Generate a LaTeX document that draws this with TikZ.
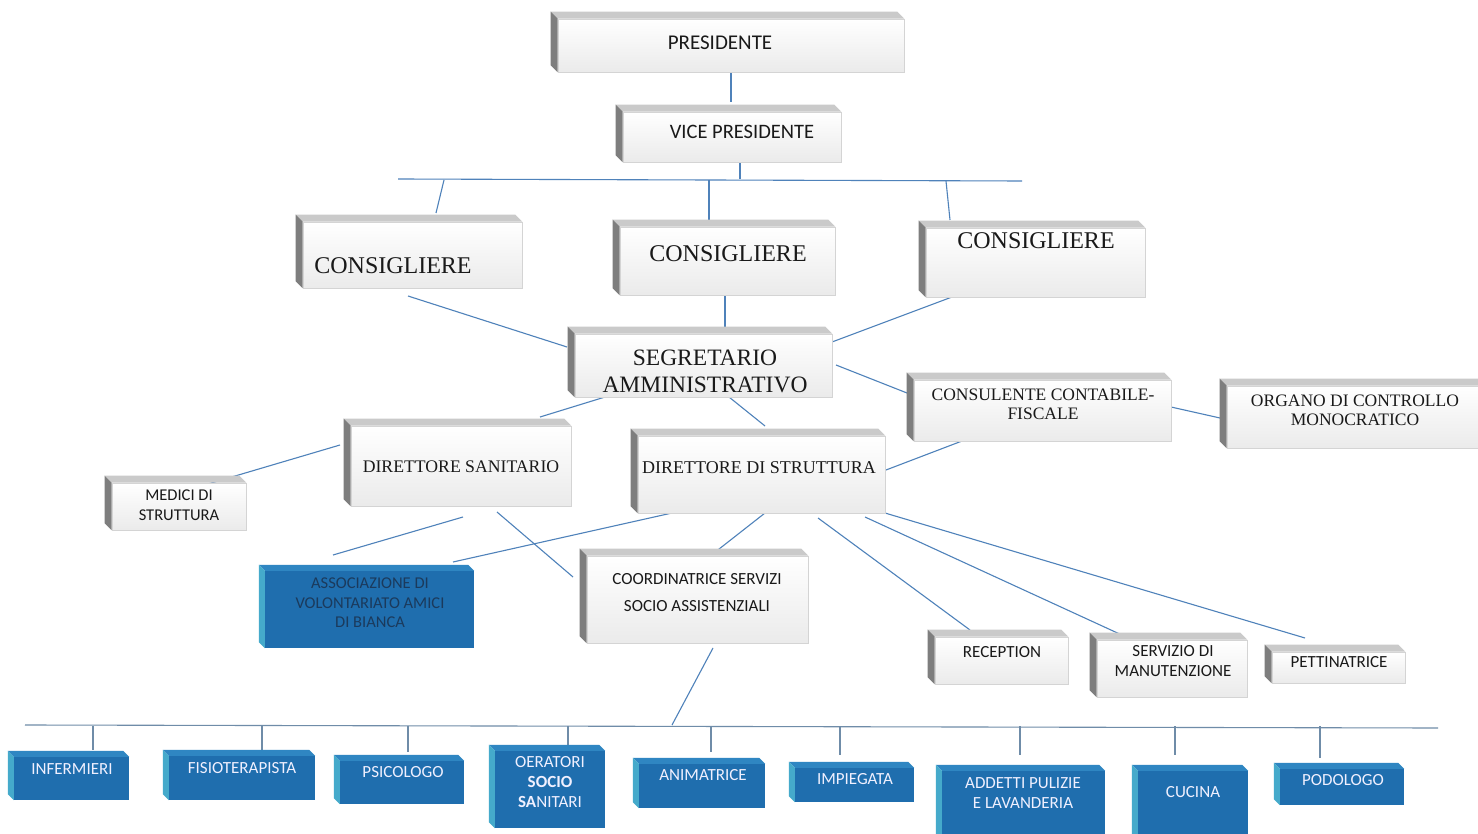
\documentclass[tikz,border=0pt]{standalone}
\usepackage{fontspec}
\setmainfont{Liberation Serif}
\newfontfamily\calfont{Carlito}
\usetikzlibrary{calc}
\definecolor{lineblue}{HTML}{4F82BA}
\definecolor{busgray}{HTML}{6F8CA8}
\definecolor{bfront}{HTML}{1F6EAE}
\definecolor{bleft}{HTML}{45AACB}
\definecolor{btop}{HTML}{2F86C2}
\definecolor{gtop}{HTML}{CACACA}
\definecolor{gleft}{HTML}{7E7E7E}
\definecolor{gedge}{HTML}{D4D4D4}
\definecolor{navytext}{HTML}{1B3A5C}
\tikzset{
  gface/.style={draw=gedge, line width=0.6pt, top color=white, bottom color=gray!16, inner sep=0pt},
  bface/.style={fill=bfront, draw=none, inner sep=0pt},
  conn/.style={draw=lineblue, line width=1.1pt},
  bus/.style={draw=busgray, line width=1.1pt},
  serift/.style={text=black!90, align=center, inner sep=0pt},
  sanst/.style={font=\calfont\fontsize{17}{20}\selectfont, text=black!90, align=center, inner sep=0pt},
  whitet/.style={font=\calfont\fontsize{17}{20}\selectfont, text=white!94!blue, align=center, inner sep=0pt},
}
% gray bevel box: name, x0, y0, x1, y1 (outer bounds, pixel coords, y down)
\newcommand{\gboxx}[5]{%
  \node[gface, minimum width={#4-#2-7}, minimum height={#5-#3-7}] (#1) at ({(#2+#4+7)/2},{(#3+#5+7)/2}) {};
  \fill[gtop] (#1.north west) -- ++(-7,-7) -- ($(#1.north east)+(-7,-7)$) -- (#1.north east) -- cycle;
  \fill[gleft] (#1.north west) -- ++(-7,-7) -- ($(#1.south west)+(-7,-7)$) -- (#1.south west) -- cycle;
}
\newcommand{\bboxx}[5]{%
  \node[bface, minimum width={#4-#2-6}, minimum height={#5-#3-6}] (#1) at ({(#2+#4+6)/2},{(#3+#5+6)/2}) {};
  \fill[btop] (#1.north west) -- ++(-6,-6) -- ($(#1.north east)+(-6,-6)$) -- (#1.north east) -- cycle;
  \fill[bleft] (#1.north west) -- ++(-6,-6) -- ($(#1.south west)+(-6,-6)$) -- (#1.south west) -- cycle;
}
\begin{document}
\begin{tikzpicture}[x=1pt,y=-1pt]
\fill[white] (0,0) rectangle (1478,834);
\useasboundingbox (0,0) rectangle (1478,834);

% ---------- connectors (drawn first) ----------
\coordinate (p1) at (731,72);   \coordinate (p2) at (731,102);
\coordinate (v1) at (740,162);  \coordinate (v2) at (740,179);
\coordinate (tb1) at (398,179); \coordinate (tb2) at (1022,181);
\coordinate (t1a) at (444,180); \coordinate (t1b) at (436,213);
\coordinate (t2a) at (709,180); \coordinate (t2b) at (709,220);
\coordinate (t3a) at (946,181); \coordinate (t3b) at (950,220);
\draw[conn] (p1) -- (p2);
\draw[conn] (v1) -- (v2);
\draw[conn] (tb1) -- (tb2);
\draw[conn] (t1a) -- (t1b);
\draw[conn] (t2a) -- (t2b);
\draw[conn] (t3a) -- (t3b);

\coordinate (c1a) at (408,296); \coordinate (c1b) at (567,347);
\coordinate (c2a) at (725,295); \coordinate (c2b) at (725,327);
\coordinate (c3a) at (952,297); \coordinate (c3b) at (832,342);
\coordinate (s1a) at (836,365); \coordinate (s1b) at (907,393);
\coordinate (k1a) at (1171,407); \coordinate (k1b) at (1220,418);
\coordinate (s2a) at (605,397); \coordinate (s2b) at (540,417);
\coordinate (s3a) at (729,397); \coordinate (s3b) at (765,426);
\coordinate (k2a) at (962,441); \coordinate (k2b) at (886,470);
\coordinate (d1a) at (340,445); \coordinate (d1b) at (208,484);
\coordinate (d2a) at (463,517); \coordinate (d2b) at (333,555);
\coordinate (d3a) at (497,512); \coordinate (d3b) at (573,577);
\coordinate (e1a) at (672,513); \coordinate (e1b) at (453,562);
\coordinate (e2a) at (765,513); \coordinate (e2b) at (714,553);
\coordinate (e3a) at (818,518); \coordinate (e3b) at (970,630);
\coordinate (e4a) at (865,517); \coordinate (e4b) at (1124,636);
\coordinate (e5a) at (885,513); \coordinate (e5b) at (1305,638);
\coordinate (f1a) at (713,648); \coordinate (f1b) at (672,725);
\foreach \a/\b in {c1a/c1b,c2a/c2b,c3a/c3b,s1a/s1b,k1a/k1b,s2a/s2b,s3a/s3b,k2a/k2b,d1a/d1b,d2a/d2b,d3a/d3b,e1a/e1b,e2a/e2b,e3a/e3b,e4a/e4b,e5a/e5b,f1a/f1b}
  \draw[conn] (\a) -- (\b);

\coordinate (bb1) at (25,725); \coordinate (bb2) at (1438,728);
\draw[bus] (bb1) -- (bb2);
\foreach \x/\y [count=\i] in {93/750,262/750,408/752,568/745,711/752,840/755,1020/755,1175/755,1320/758}{
  \coordinate (tk\i a) at (\x,726);
  \coordinate (tk\i b) at (\x,\y);
  \draw[bus] (tk\i a) -- (tk\i b);
}

% ---------- gray boxes ----------
\gboxx{pres}{551}{12}{904}{72}
\gboxx{vice}{616}{105}{841}{162}
\gboxx{consA}{296}{215}{522}{288}
\gboxx{consB}{613}{220}{835}{295}
\gboxx{consC}{919}{221}{1145}{297}
\gboxx{segr}{568}{327}{832}{397}
\gboxx{cfisc}{907}{373}{1171}{441}
\gboxx{organo}{1220}{379}{1486}{448}
\gboxx{dsan}{344}{419}{571}{506}
\gboxx{dstr}{631}{429}{885}{513}
\gboxx{medici}{105}{476}{246}{530}
\gboxx{coord}{580}{549}{808}{643}
\gboxx{recep}{928}{630}{1068}{684}
\gboxx{manut}{1090}{633}{1247}{697}
\gboxx{pett}{1265}{645}{1405}{683}

% ---------- blue boxes ----------
\bboxx{assoc}{259}{565}{474}{648}
\bboxx{inf}{8}{751}{129}{800}
\bboxx{fis}{163}{750}{315}{800}
\bboxx{psi}{334}{755}{464}{804}
\bboxx{oer}{489}{745}{605}{828}
\bboxx{ani}{633}{758}{765}{808}
\bboxx{imp}{789}{762}{914}{802}
\bboxx{add}{936}{765}{1105}{842}
\bboxx{cuc}{1132}{765}{1248}{842}
\bboxx{pod}{1274}{763}{1404}{805}

% ---------- texts ----------
\node[sanst, font=\calfont\fontsize{21}{24}\selectfont] (pres-t) at (720,43) {PRESIDENTE};
\node[sanst, font=\calfont\fontsize{20.5}{24}\selectfont] (vice-t) at (742,132) {VICE PRESIDENTE};
\node[serift, font=\fontsize{24}{27}\selectfont] (consA-t) at (393,266) {CONSIGLIERE};
\node[serift, font=\fontsize{24}{27}\selectfont] (consB-t) at (728,254) {CONSIGLIERE};
\node[serift, font=\fontsize{24}{27}\selectfont] (consC-t) at (1036,241) {CONSIGLIERE};
\node[serift, font=\fontsize{23.5}{27}\selectfont] (segr-t) at (705,371) {SEGRETARIO\\AMMINISTRATIVO};
\node[serift, font=\fontsize{17.5}{19}\selectfont] (cfisc-t) at (1043,404) {CONSULENTE CONTABILE-\\FISCALE};
\node[serift, font=\fontsize{17.5}{19}\selectfont] (organo-t) at (1355,410) {ORGANO DI CONTROLLO\\MONOCRATICO};
\node[serift, font=\fontsize{17.7}{20}\selectfont] (dsan-t) at (461,467) {DIRETTORE SANITARIO};
\node[serift, font=\fontsize{18}{20}\selectfont] (dstr-t) at (759,468) {DIRETTORE DI STRUTTURA};
\node[sanst, font=\calfont\fontsize{16.5}{20.5}\selectfont] (medici-t) at (179,505) {MEDICI DI\\STRUTTURA};
\node[sanst, font=\calfont\fontsize{17}{27}\selectfont] (coord-t) at (697,593) {COORDINATRICE SERVIZI\\SOCIO ASSISTENZIALI};
\node[sanst] (recep-t) at (1002,652) {RECEPTION};
\node[sanst, font=\calfont\fontsize{17}{20}\selectfont] (manut-t) at (1173,661) {SERVIZIO DI\\MANUTENZIONE};
\node[sanst] (pett-t) at (1339,662) {PETTINATRICE};

\node[whitet, text=navytext, font=\calfont\fontsize{16.5}{19.5}\selectfont] (assoc-t) at (370,603) {ASSOCIAZIONE DI\\VOLONTARIATO AMICI\\DI BIANCA};
\node[whitet] (inf-t) at (72,769) {INFERMIERI};
\node[whitet] (fis-t) at (242,768) {FISIOTERAPISTA};
\node[whitet] (psi-t) at (403,772) {PSICOLOGO};
\node[whitet, font=\calfont\fontsize{17}{20}\selectfont] (oer-t) at (550,782) {OERATORI\\\textbf{SOCIO}\\\textbf{SA}NITARI};
\node[whitet] (ani-t) at (703,775) {ANIMATRICE};
\node[whitet] (imp-t) at (855,779) {IMPIEGATA};
\node[whitet, font=\calfont\fontsize{17}{20}\selectfont] (add-t) at (1023,793) {ADDETTI PULIZIE\\E LAVANDERIA};
\node[whitet] (cuc-t) at (1193,792) {CUCINA};
\node[whitet] (pod-t) at (1343,780) {PODOLOGO};
\end{tikzpicture}
\end{document}
